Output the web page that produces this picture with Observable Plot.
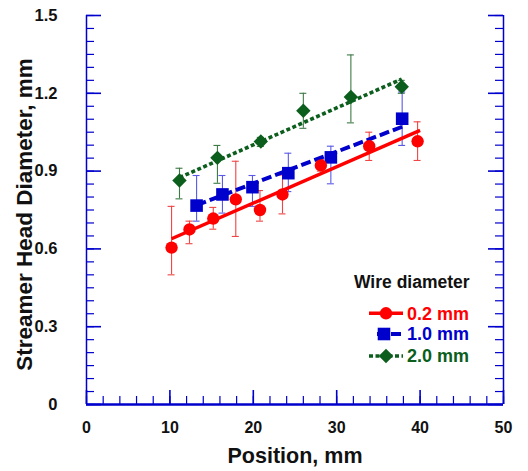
<!DOCTYPE html>
<html><head><meta charset="utf-8">
<script src="https://cdn.jsdelivr.net/npm/d3@7"></script>
<script src="https://cdn.jsdelivr.net/npm/@observablehq/plot@0.6"></script>
<style>body{margin:0;background:#fff} svg{display:block}</style>
</head><body><div id="chart"></div>
<script>
// ---- data ----
const seriesNames = ["0.2 mm", "1.0 mm", "2.0 mm"];
const redX  = [10.2, 12.35, 15.2, 17.9, 20.8, 23.5, 28.1, 33.9, 39.7];
const redY  = [0.605, 0.675, 0.717, 0.791, 0.750, 0.810, 0.922, 0.996, 1.015];
const redLo = [0.50, 0.62, 0.676, 0.648, 0.707, 0.735, 0.90, 0.941, 0.941];
const redHi = [0.764, 0.707, 0.76, 0.938, 0.825, 0.885, 0.945, 1.05, 1.09];
const blueX  = [13.2, 16.3, 19.9, 24.2, 29.3, 37.85];
const blueY  = [0.767, 0.810, 0.838, 0.892, 0.953, 1.102];
const blueLo = [0.707, 0.738, 0.764, 0.821, 0.851, 0.999];
const blueHi = [0.883, 0.883, 0.883, 0.969, 0.996, 1.205];
const greenX  = [11.15, 15.7, 20.9, 26.0, 31.7, 37.8];
const greenY  = [0.864, 0.951, 1.014, 1.133, 1.186, 1.225];
const greenLo = [0.793, 0.853, 0.995, 1.065, 1.086, 1.20];
const greenHi = [0.911, 0.999, 1.03, 1.20, 1.348, 1.25];
// linear fit end points
const redFitX = [10.2, 40.0],  redFitY = [0.639, 1.057];
const blueFitX = [13.2, 37.85], blueFitY = [0.769, 1.071];
const greenFitX = [11.15, 37.8], greenFitY = [0.875, 1.255];
// axes
const xMajor = [0, 10, 20, 30, 40, 50];
const xMajorLabels = ["0", "10", "20", "30", "40", "50"];
const yMajor = [0, 0.3, 0.6, 0.9, 1.2, 1.5];
const yMajorLabels = ["0", "0.3", "0.6", "0.9", "1.2", "1.5"];
const xTitle = "Position, mm";
const yTitle = "Streamer Head Diameter, mm";
const legendTitle = "Wire diameter";

// ---- styles ----
const RED = "#ff0000", BLUE = "#0000cc", GREEN = "#0b5e1c", AXIS = "#0000cc";
const FONT = "Liberation Sans, Arial, sans-serif";

const series = [
  {name: seriesNames[2], X: greenX, Y: greenY, Lo: greenLo, Hi: greenHi, FX: greenFitX, FY: greenFitY,
   color: GREEN, errColor: "#3d7a45", symbol: "diamond2", r: 6.5, dash: "4,2.5", sw: 3.6},
  {name: seriesNames[1], X: blueX, Y: blueY, Lo: blueLo, Hi: blueHi, FX: blueFitX, FY: blueFitY,
   color: BLUE, errColor: "#5a5ae6", symbol: "square", r: 7.1, dash: "10,4", sw: 4},
  {name: seriesNames[0], X: redX, Y: redY, Lo: redLo, Hi: redHi, FX: redFitX, FY: redFitY,
   color: RED, errColor: "#f04545", symbol: "circle", r: 6.2, dash: null, sw: 3.4}
];
const toRows = s => s.X.map((x, i) => ({x, y: s.Y[i], lo: s.Lo[i], hi: s.Hi[i]}));
const fitRows = s => s.FX.map((x, i) => ({x, y: s.FY[i]}));

const xMinor = d3.range(0, 50.001, 2);
const yMinor = d3.range(0, 1.5001, 0.05).map(v => +v.toFixed(2));

const W = 528, H = 471, ML = 86, MR = 25, MT = 15, MB = 67;
const frameW = W - ML - MR, frameH = H - MT - MB;

const marks = [];
// axis ticks (inward)
marks.push(Plot.ruleX(xMinor, {x: d => d, y1: 1.5, y2: 0, insetTop: frameH - 8, stroke: AXIS, strokeWidth: 1.2}));
marks.push(Plot.ruleX(xMajor, {x: d => d, y1: 1.5, y2: 0, insetTop: frameH - 14, stroke: AXIS, strokeWidth: 1.6}));
marks.push(Plot.ruleY(yMinor, {y: d => d, x1: 0, x2: 50, insetRight: frameW - 8, stroke: AXIS, strokeWidth: 1.2}));
marks.push(Plot.ruleY(yMajor, {y: d => d, x1: 0, x2: 50, insetRight: frameW - 15, stroke: AXIS, strokeWidth: 1.6}));
marks.push(Plot.ruleY(yMinor, {y: d => d, x1: 0, x2: 50, insetLeft: frameW - 8, stroke: AXIS, strokeWidth: 1.2}));
marks.push(Plot.ruleY(yMajor, {y: d => d, x1: 0, x2: 50, insetLeft: frameW - 15, stroke: AXIS, strokeWidth: 1.6}));
// axis lines
marks.push(Plot.ruleX([0, 50], {x: d => d, y1: 0, y2: 1.5, stroke: AXIS, strokeWidth: 1.5}));
marks.push(Plot.ruleY([0], {y: d => d, x1: 0, x2: 50, stroke: AXIS, strokeWidth: 2.5}));

// error bars
for (const s of series) {
  const rows = toRows(s);
  marks.push(Plot.ruleX(rows, {x: "x", y1: "lo", y2: "hi", stroke: s.errColor, strokeWidth: 1.1}));
  marks.push(Plot.ruleY(rows, {y: "lo", x1: "x", x2: "x", insetLeft: -3.5, insetRight: -3.5, stroke: s.errColor, strokeWidth: 1.1}));
  marks.push(Plot.ruleY(rows, {y: "hi", x1: "x", x2: "x", insetLeft: -3.5, insetRight: -3.5, stroke: s.errColor, strokeWidth: 1.1}));
}
// fit lines + markers
for (const s of series) {
  marks.push(Plot.line(fitRows(s), {x: "x", y: "y", stroke: s.color, strokeWidth: s.sw,
    strokeDasharray: s.dash || undefined, strokeLinecap: "butt"}));
}
for (const s of series) {
  marks.push(Plot.dot(toRows(s), {x: "x", y: "y", symbol: s.symbol, r: s.r, fill: s.color, stroke: "none"}));
}

// tick labels
marks.push(Plot.text(xMajor, {x: d => d, y: 0, text: (d, i) => xMajorLabels[i], dy: 23.5, lineAnchor: "middle",
  fontSize: 16, fontWeight: "bold", fontFamily: FONT, fill: "#111"}));
marks.push(Plot.text(yMajor, {x: 0, y: d => d, text: (d, i) => yMajorLabels[i], dx: -29, textAnchor: "end",
  fontSize: 16.5, fontWeight: "bold", fontFamily: FONT, fill: "#111"}));
// axis titles
marks.push(Plot.text([xTitle], {frameAnchor: "bottom", text: d => d, dy: 52, lineAnchor: "middle", textAnchor: "middle",
  fontSize: 21.5, fontWeight: "bold", fontFamily: FONT, fill: "#111"}));
marks.push(Plot.text([yTitle], {frameAnchor: "left", text: d => d, rotate: -90, dx: -62, dy: 4.5, lineAnchor: "middle", textAnchor: "middle",
  fontSize: 22.5, fontWeight: "bold", fontFamily: FONT, fill: "#111"}));

// legend
const legendRows = [series[2], series[1], series[0]];
const legendDy = [-90.7, -70, -48];
marks.push(Plot.text([legendTitle], {frameAnchor: "bottom-right", text: d => d, dx: -91.7, dy: -122.3,
  textAnchor: "middle", lineAnchor: "middle", fontSize: 17.5, fontWeight: "bold", fontFamily: FONT, fill: "#111"}));
legendRows.forEach((s, i) => {
  marks.push(Plot.text([s.name], {frameAnchor: "bottom-right", text: d => d, dx: -96.5, dy: legendDy[i],
    textAnchor: "start", lineAnchor: "middle", fontSize: 18, fontWeight: "bold", fontFamily: FONT, fill: s.color}));
});
marks.push((index, scales, values, dims) => {
  const g = d3.create("svg:g");
  const right = dims.width - dims.marginRight, bottom = dims.height - dims.marginBottom;
  const lineStart = [-134, -126, -134];
  const markX = [-117, -119, -117];
  legendRows.forEach((s, i) => {
    const y = bottom + legendDy[i];
    g.append("line").attr("x1", right + lineStart[i]).attr("x2", right - 100)
      .attr("y1", y).attr("y2", y).attr("stroke", s.color).attr("stroke-width", s.sw)
      .attr("stroke-dasharray", s.dash || null);
    const sym = {circle: d3.symbolCircle, square: d3.symbolSquare, diamond2: d3.symbolDiamond2}[s.symbol];
    g.append("path").attr("d", d3.symbol(sym, s.r * s.r * Math.PI)())
      .attr("transform", `translate(${right + markX[i]},${y})`).attr("fill", s.color);
  });
  return g.node();
});

const chart = Plot.plot({
  width: W, height: H,
  marginLeft: ML, marginRight: MR, marginTop: MT, marginBottom: MB,
  x: {domain: [0, 50], axis: null},
  y: {domain: [0, 1.5], axis: null},
  style: {background: "#fff", fontFamily: FONT},
  marks
});
document.getElementById("chart").appendChild(chart);
</script>
</body></html>
